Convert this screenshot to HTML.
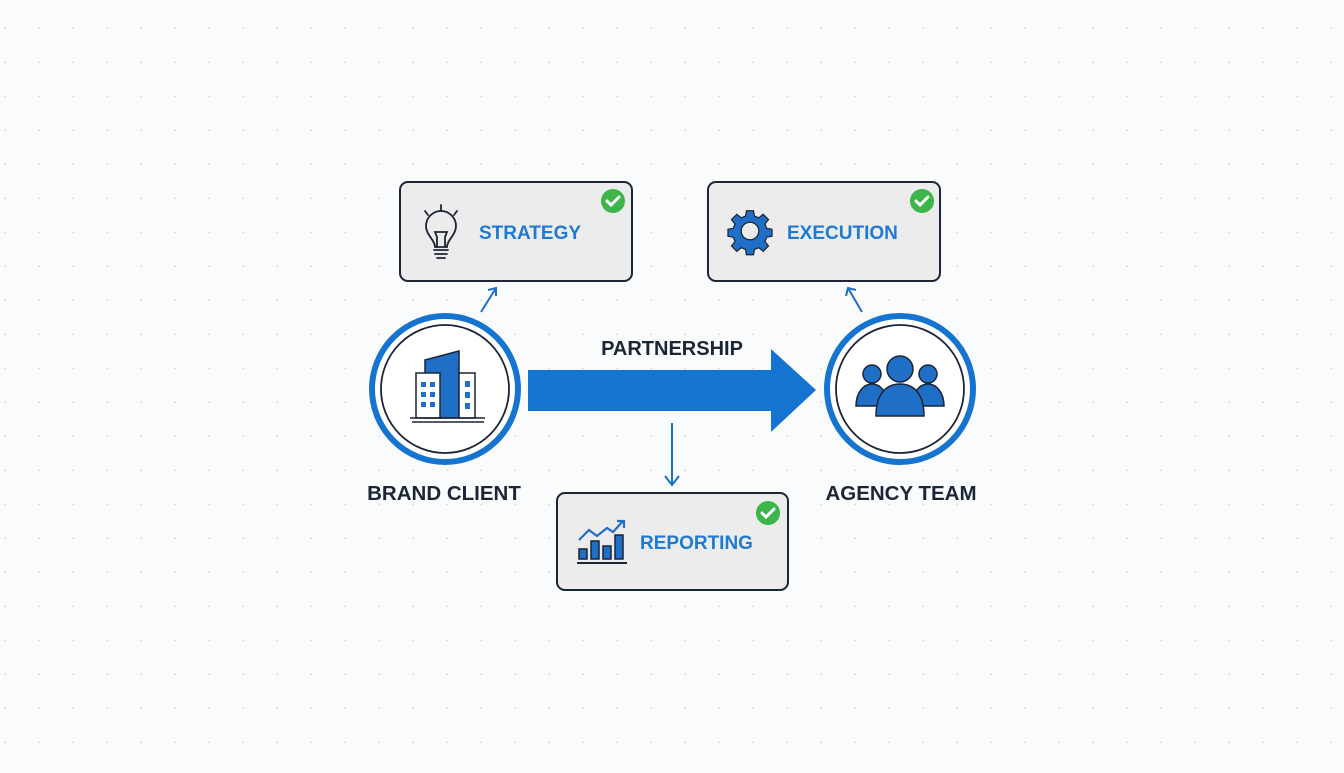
<!DOCTYPE html>
<html><head><meta charset="utf-8"><style>
body{margin:0;width:1344px;height:768px;overflow:hidden;background:#fafbfc;font-family:"Liberation Sans",sans-serif}
</style></head><body>
<svg width="1344" height="768" viewBox="0 0 1344 768" xmlns="http://www.w3.org/2000/svg">
<defs>
<pattern id="d" x="-28" y="-5" width="34" height="34" patternUnits="userSpaceOnUse"><circle cx="34" cy="34" r="1.6" fill="#d0d4da"/></pattern>
</defs>
<rect width="1344" height="768" fill="url(#d)"/>
<g stroke="#1b2535" stroke-width="2" fill="#ececed">
<rect x="400" y="182" width="232" height="99" rx="8"/>
<rect x="708" y="182" width="232" height="99" rx="8"/>
<rect x="557" y="493" width="231" height="97" rx="8"/>
</g>
<g font-weight="bold" font-size="19" fill="#1f7ad2">
<text x="479" y="239">STRATEGY</text>
<text x="787" y="239">EXECUTION</text>
<text x="640" y="549">REPORTING</text>
</g>
<g>
<circle cx="613" cy="201" r="12" fill="#3cb54a"/><path d="M607 201l4 4 8-8" stroke="#fff" stroke-width="3" fill="none" stroke-linecap="round"/>
<circle cx="922" cy="201" r="12" fill="#3cb54a"/><path d="M916 201l4 4 8-8" stroke="#fff" stroke-width="3" fill="none" stroke-linecap="round"/>
<circle cx="768" cy="513" r="12" fill="#3cb54a"/><path d="M762 513l4 4 8-8" stroke="#fff" stroke-width="3" fill="none" stroke-linecap="round"/>
</g>
<!-- bulb -->
<g stroke="#1b2535" stroke-width="1.8" fill="none" stroke-linecap="round">
<path d="M435 247c0-7-9-12-9-21a15 15 0 0 1 30 0c0 9-9 14-9 21z"/>
<path d="M437 247v-10l-2-5h12l-2 5v10"/>
<path d="M434 250h14M435 254h12M437 258h8"/>
<path d="M441 205v6M425 211l3 4M457 211l-3 4"/>
</g>
<!-- gear -->
<g transform="translate(750,231) scale(0.88)">
<path fill="#1f6fc7" stroke="#1b2535" stroke-width="1.4" d="M-4 -23h8l1 6 5 2 5-4 6 6-4 5 2 5 6 1v8l-6 1-2 5 4 5-6 6-5-4-5 2-1 6h-8l-1-6-5-2-5 4-6-6 4-5-2-5-6-1v-8l6-1 2-5-4-5 6-6 5 4 5-2z"/>
<circle r="10" fill="#ececed" stroke="#1b2535" stroke-width="1.4"/>
</g>
<g>
<rect x="579" y="549" width="8" height="10" fill="#1f6fc7" stroke="#1b2535" stroke-width="1.5"/>
<rect x="591" y="541" width="8" height="18" fill="#1f6fc7" stroke="#1b2535" stroke-width="1.5"/>
<rect x="603" y="546" width="8" height="13" fill="#1f6fc7" stroke="#1b2535" stroke-width="1.5"/>
<rect x="615" y="535" width="8" height="24" fill="#1f6fc7" stroke="#1b2535" stroke-width="1.5"/>
<path d="M577 563h50" stroke="#1b2535" stroke-width="2"/>
<path d="M579 540l10-10 8 6 10-8 6 4 10-11M617 521h7v7" stroke="#1f6fc7" stroke-width="2.2" fill="none"/>
</g>
<g stroke="#1f6fc7" stroke-width="2" fill="none">
<path d="M481 312l15-24M488 290l8-2 0 8"/>
<path d="M862 312l-14-24M846 296l2-8 8 2"/>
<path d="M672 423v62M665 476l7 9 7-9"/>
</g>
<path d="M528 370h243v-21l45 41-45 42v-21h-243z" fill="#1474cf"/>
<text x="672" y="355" text-anchor="middle" font-weight="bold" font-size="20" fill="#1b2535">PARTNERSHIP</text>
<g>
<circle cx="445" cy="389" r="73" fill="#fff" stroke="#1474cf" stroke-width="6"/>
<circle cx="445" cy="389" r="64" fill="#fff" stroke="#1b2535" stroke-width="1.8"/>
<circle cx="900" cy="389" r="73" fill="#fff" stroke="#1474cf" stroke-width="6"/>
<circle cx="900" cy="389" r="64" fill="#fff" stroke="#1b2535" stroke-width="1.8"/>
</g>
<g stroke="#1b2535" stroke-width="1.5">
<path d="M425 360l34-9v67h-34z" fill="#1f6fc7"/>
<rect x="416" y="373" width="24" height="45" fill="#fff"/>
<rect x="459" y="373" width="16" height="45" fill="#fff"/>
<path d="M410 418h75M412 422h72" fill="none"/>
</g>
<g fill="#1f6fc7">
<rect x="421" y="382" width="5" height="5"/><rect x="430" y="382" width="5" height="5"/>
<rect x="421" y="392" width="5" height="5"/><rect x="430" y="392" width="5" height="5"/>
<rect x="421" y="402" width="5" height="5"/><rect x="430" y="402" width="5" height="5"/>
<rect x="465" y="381" width="5" height="6"/><rect x="465" y="392" width="5" height="6"/><rect x="465" y="403" width="5" height="6"/>
</g>
<g fill="#1f6fc7" stroke="#1b2535" stroke-width="1.5">
<circle cx="872" cy="374" r="9"/><circle cx="928" cy="374" r="9"/>
<path d="M856 406c0-14 8-22 16-22s16 8 16 22z"/>
<path d="M912 406c0-14 8-22 16-22s16 8 16 22z"/>
<circle cx="900" cy="369" r="13"/>
<path d="M876 416c0-22 10-32 24-32s24 10 24 32z"/>
</g>
<g font-weight="bold" font-size="20.5" fill="#1b2535" text-anchor="middle">
<text x="444" y="500">BRAND CLIENT</text>
<text x="901" y="500">AGENCY TEAM</text>
</g>
</svg>
</body></html>
